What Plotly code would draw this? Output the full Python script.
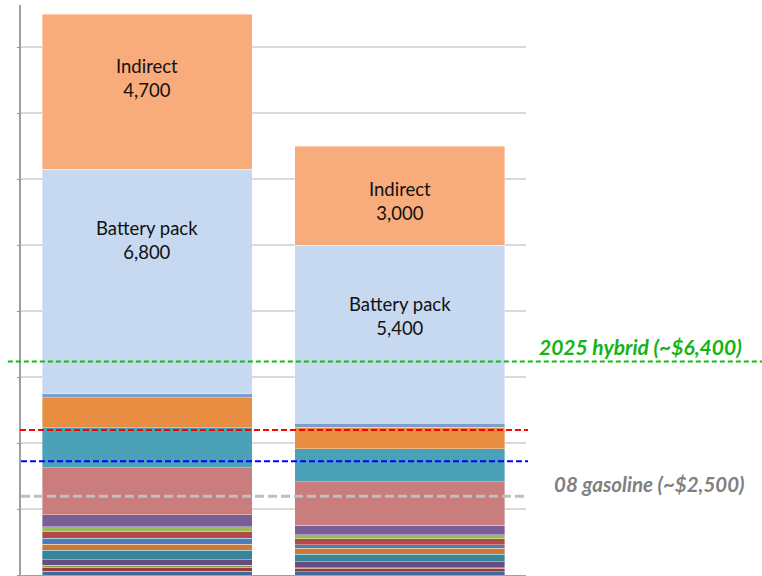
import plotly.graph_objects as go

# ---------------- data ----------------
categories = ["Bar 1", "Bar 2"]

component_names = [
    "Part 1", "Part 2", "Part 3", "Part 4", "Part 5", "Part 6", "Part 7",
    "Part 8", "Part 9", "Part 10", "Part 11", "Part 12", "Part 13", "Part 14",
    "Battery pack", "Indirect",
]
bar1_values = [110, 120, 60, 170, 290, 180, 180, 220, 140, 360, 1420, 1220, 910, 120, 6800, 4700]
bar2_values = [100, 100, 20, 180, 230, 180, 110, 180, 120, 290, 1320, 1000, 650, 120, 5400, 3000]

labeled_components = ["Battery pack", "Indirect"]

ref_names = ["2025 hybrid (~$6,400)", "red", "blue", "08 gasoline (~$2,500)"]
ref_values = [6470, 4400, 3450, 2390]

# ---------------- styles ----------------
colors = [
    "#3F6A9E", "#9A3B3A", "#859A4E", "#654C7E", "#378598", "#CB793B", "#4A7EBB",
    "#B14946", "#9BBB59", "#795E97", "#C97D7C", "#4BA1B8", "#E88E42", "#7F9DCB",
    "#C6D9F1", "#F8AC7B",
]
FONT = "Lato, Carlito, 'Open Sans', sans-serif"

fig = go.Figure()
for i, name in enumerate(component_names):
    fig.add_trace(go.Bar(
        x=categories,
        y=[bar1_values[i], bar2_values[i]],
        name=name,
        marker=dict(color=colors[i], line=dict(color="rgba(255,255,255,0.45)", width=0.8)),
        hoverinfo="name+y",
    ))

# segment labels
label_offsets = {("Bar 1", "Indirect"): 1930, ("Bar 1", "Battery pack"): 2140,
                 ("Bar 2", "Indirect"): 1660, ("Bar 2", "Battery pack"): 2140}
for ci, cat in enumerate(categories):
    vals = [bar1_values, bar2_values][ci]
    cum = 0
    for i, name in enumerate(component_names):
        cum += vals[i]
        if name in labeled_components:
            fig.add_annotation(
                x=cat, y=cum - label_offsets[(cat, name)],
                text=f"{name}<br>{vals[i]:,}",
                showarrow=False, xanchor="center", yanchor="middle",
                font=dict(family=FONT, size=18.5, color="#111111"),
            )

# reference lines
line_styles = [
    dict(color="#14B814", width=2, dash="5px,3px"),
    dict(color="#FF0000", width=2, dash="6px,3px"),
    dict(color="#0000FF", width=2, dash="6px,3px"),
    dict(color="#BFBFBF", width=3, dash="9px,4px"),
]
line_extents = [(-0.026, 1.47), (-0.002, 1.004), (0.0, 1.004), (0.0, 1.004)]
for v, st, (x0, x1) in zip(ref_values, line_styles, line_extents):
    fig.add_shape(type="line", xref="paper", yref="y", x0=x0, x1=x1, y0=v, y1=v,
                  line=st, layer="above")

fig.add_annotation(xref="paper", yref="y", x=1.226, y=ref_values[0], yshift=15,
                   text=f"<b><i>{ref_names[0]}</i></b>", showarrow=False,
                   xanchor="center", yanchor="middle",
                   font=dict(family=FONT, size=21, color="#14B414"))
fig.add_annotation(xref="paper", yref="y", x=1.244, y=ref_values[3], yshift=12,
                   text=f"<b><i>{ref_names[3]}</i></b>", showarrow=False,
                   xanchor="center", yanchor="middle",
                   font=dict(family=FONT, size=20.5, color="#808080"))

fig.update_layout(
    width=762, height=576,
    margin=dict(l=21, r=236, t=5, b=1),
    barmode="stack", bargap=0.168,
    showlegend=False,
    plot_bgcolor="white", paper_bgcolor="white",
    font=dict(family=FONT),
    xaxis=dict(showticklabels=False, showline=True, linecolor="#A0A0A0", linewidth=2,
               ticks="", showgrid=False, range=[-0.5, 1.5], fixedrange=True),
    yaxis=dict(range=[0, 17282], dtick=2000, tick0=0, showticklabels=False,
               showgrid=True, gridcolor="#D9D9D9", gridwidth=1.5,
               showline=True, linecolor="#A0A0A0", linewidth=2,
               ticks="outside", ticklen=2, tickcolor="#909090",
               zeroline=False, fixedrange=True),
)

fig.write_html(
    "out.html",
    config={"displayModeBar": False},
    post_script="document.body.style.margin='0';document.body.style.overflow='hidden';",
)
